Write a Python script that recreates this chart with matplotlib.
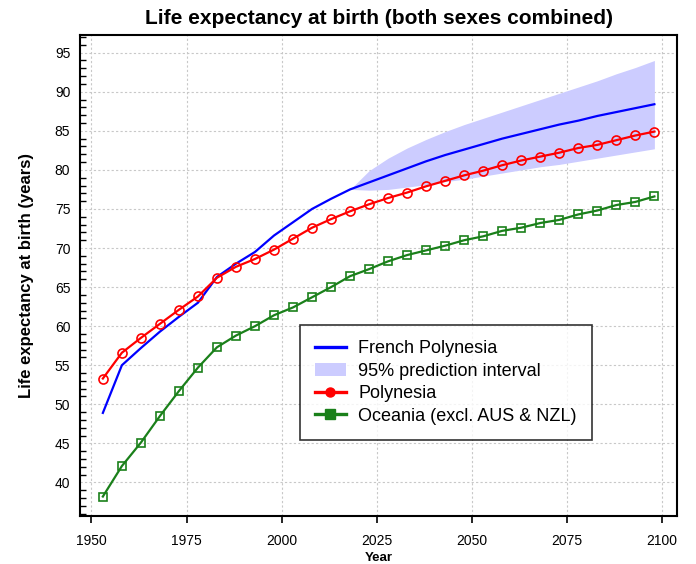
import numpy as np
import matplotlib
matplotlib.use("Agg")
import matplotlib.pyplot as plt
from matplotlib.lines import Line2D
from matplotlib.patches import Patch
from matplotlib.ticker import MultipleLocator

plt.rcParams['font.family'] = ['Liberation Sans', 'DejaVu Sans']

# 5-year period midpoints
years = list(range(1953, 2099, 5))

french_polynesia = [48.9, 55.0, 57.2, 59.3, 61.2, 63.0, 66.3, 68.0, 69.5, 71.6,
                    73.3, 75.0, 76.3, 77.5, 78.4, 79.3, 80.2, 81.1, 81.9, 82.6,
                    83.3, 84.0, 84.6, 85.2, 85.8, 86.3, 86.9, 87.4, 87.9, 88.4]
polynesia = [53.3, 56.6, 58.5, 60.3, 62.1, 63.8, 66.2, 67.6, 68.6, 69.8,
             71.2, 72.6, 73.7, 74.7, 75.6, 76.4, 77.1, 77.9, 78.6, 79.3,
             79.9, 80.6, 81.2, 81.7, 82.2, 82.8, 83.2, 83.8, 84.4, 84.9]
oceania = [38.2, 42.1, 45.1, 48.5, 51.7, 54.7, 57.3, 58.8, 60.0, 61.4,
           62.4, 63.7, 65.0, 66.4, 67.3, 68.3, 69.1, 69.7, 70.3, 71.0,
           71.5, 72.2, 72.6, 73.2, 73.6, 74.3, 74.8, 75.5, 75.9, 76.6]

# 95% prediction interval for French Polynesia (projection period)
pi_years = list(range(2018, 2099, 5))
pi_upper = [77.5, 79.9, 81.5, 82.8, 83.9, 84.9, 85.8, 86.6, 87.4, 88.2,
            89.0, 89.8, 90.6, 91.4, 92.3, 93.1, 94.0]
pi_lower = [77.5, 77.4, 77.5, 77.8, 78.1, 78.5, 78.8, 79.2, 79.6, 80.0,
            80.4, 80.7, 81.1, 81.5, 81.9, 82.3, 82.7]

blue = '#0000ff'
red = '#ff0000'
green = '#1a801a'
band = '#ccccff'

fig = plt.figure(figsize=(6.96, 5.64), dpi=100)
ax = fig.add_axes([0.115, 0.085, 0.858, 0.8535])

ax.fill_between(pi_years, pi_lower, pi_upper, color=band, linewidth=0, zorder=1)
ax.plot(years, french_polynesia, color=blue, linewidth=1.6, zorder=3)
ax.plot(years, polynesia, color=red, linewidth=1.6, marker='o', markersize=6.5,
        markerfacecolor='none', markeredgecolor=red, markeredgewidth=1.2, zorder=4)
ax.plot(years, oceania, color=green, linewidth=1.6, marker='s', markersize=5.5,
        markerfacecolor='none', markeredgecolor=green, markeredgewidth=1.2, zorder=4)

ax.set_xlim(1947, 2104)
ax.set_ylim(35.7, 97.3)
ax.xaxis.set_major_locator(MultipleLocator(25))
ax.yaxis.set_major_locator(MultipleLocator(5))
ax.yaxis.set_minor_locator(MultipleLocator(1))
ax.grid(True, which='major', color='#c8c8c8', linestyle=(0, (2, 2)), linewidth=0.8, zorder=0)
ax.set_axisbelow(True)

ax.tick_params(axis='x', which='major', direction='out', length=5, width=1.2,
               pad=8, labelsize=10, top=False)
ax.tick_params(axis='y', which='major', direction='in', length=0, pad=7, labelsize=10)
ax.tick_params(axis='y', which='minor', direction='in', length=4.5, width=1.0, right=False)
for s in ax.spines.values():
    s.set_linewidth(1.5)

ax.set_xlabel('Year', fontsize=9.5, fontweight='bold', labelpad=3)
ax.set_ylabel('Life expectancy at birth (years)', fontsize=12, fontweight='bold', labelpad=15)
ax.set_title('Life expectancy at birth (both sexes combined)', fontsize=15,
             fontweight='bold', pad=8)

handles = [
    Line2D([], [], color=blue, linewidth=2.4),
    Patch(facecolor=band, edgecolor='none'),
    Line2D([], [], color=red, linewidth=2.4, marker='o', markersize=6.5),
    Line2D([], [], color=green, linewidth=2.4, marker='s', markersize=6.5),
]
labels = ['French Polynesia', '95% prediction interval', 'Polynesia',
          'Oceania (excl. AUS & NZL)']
leg = ax.legend(handles, labels, loc='upper left', bbox_to_anchor=(0.368, 0.397),
                borderaxespad=0, fontsize=13, frameon=True, fancybox=False,
                handlelength=1.7, labelspacing=0.3, borderpad=0.85,
                handletextpad=0.7)
leg.get_frame().set_edgecolor('black')
leg.get_frame().set_linewidth(1.2)
leg.set_zorder(5)

fig.savefig('out.png', dpi=100)
